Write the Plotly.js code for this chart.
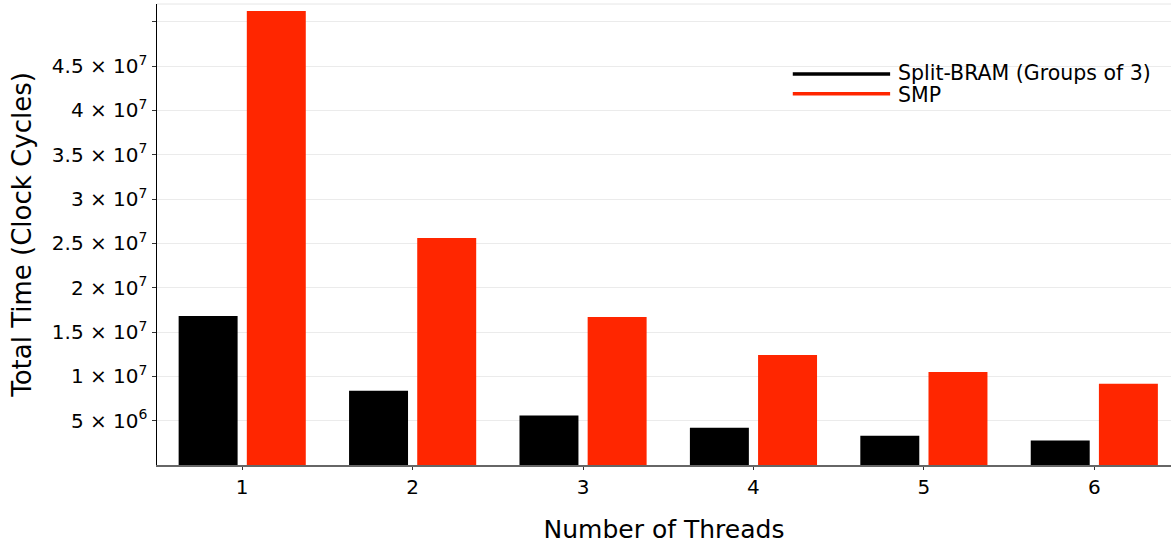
<!DOCTYPE html>
<html>
<head>
<meta charset="utf-8">
<script src="https://cdn.plot.ly/plotly-3.0.1.min.js"></script>
<style>html,body{margin:0;padding:0;background:#fff;}#chart{width:1172px;height:546px;}</style>
</head>
<body>
<div id="chart"></div>
<script>
// ---- data ----
var threads = [1, 2, 3, 4, 5, 6];
var seriesNames = ["Split-BRAM (Groups of 3)", "SMP"];
var splitBram = [16.8e6, 8.38e6, 5.57e6, 4.21e6, 3.31e6, 2.75e6];
var smp = [51.2e6, 25.6e6, 16.7e6, 12.4e6, 10.5e6, 9.17e6];
var yTickVals = [5e6, 10e6, 15e6, 20e6, 25e6, 30e6, 35e6, 40e6, 45e6, 50e6];
var yTickText = ["5 × 10<sup>6</sup>", "1 × 10<sup>7</sup>", "1.5 × 10<sup>7</sup>", "2 × 10<sup>7</sup>",
                 "2.5 × 10<sup>7</sup>", "3 × 10<sup>7</sup>", "3.5 × 10<sup>7</sup>", "4 × 10<sup>7</sup>",
                 "4.5 × 10<sup>7</sup>", ""];
var colors = ["#000000", "#ff2600"];

var FONT = "DejaVu Sans, sans-serif";

var traces = [
  {type: "bar", x: threads, y: splitBram, name: seriesNames[0], marker: {color: colors[0], line: {width: 0}}, showlegend: false},
  {type: "bar", x: threads, y: smp, name: seriesNames[1], marker: {color: colors[1], line: {width: 0}}, showlegend: false}
];

// manual line-style legend (Plots.jl look)
var legX0 = 0.627, legX1 = 0.723, legTx = 0.729;
var legLineY = [0.8484, 0.8055];
var legTextY = [0.8500, 0.8035];
var shapes = [
  {type: "line", xref: "paper", yref: "paper", x0: 0, x1: 1, y0: 1, y1: 1, line: {color: "#e6e6e6", width: 1}, layer: "below"}
];
var annotations = [];
for (var i = 0; i < 2; i++) {
  shapes.push({type: "line", xref: "paper", yref: "paper", x0: legX0, x1: legX1, y0: legLineY[i], y1: legLineY[i],
               line: {color: colors[i], width: 3.5}});
  annotations.push({xref: "paper", yref: "paper", x: legTx, y: legTextY[i], xanchor: "left", yanchor: "middle",
                    text: seriesNames[i], showarrow: false, font: {family: FONT, size: 20.5, color: "#000"}});
}

var layout = {
  width: 1172, height: 546,
  margin: {l: 157, r: 1, t: 4, b: 80.5},
  paper_bgcolor: "#fff", plot_bgcolor: "#fff",
  barmode: "group", bargap: 0.2, bargroupgap: 0.135,
  font: {family: FONT, size: 20, color: "#000"},
  xaxis: {
    range: [0.5, 6.45], tickvals: threads, ticktext: threads.map(String),
    showgrid: false, zeroline: false,
    showline: true, linecolor: "#666", linewidth: 1.5,
    ticks: "outside", ticklen: 3, tickcolor: "#333", tickwidth: 1,
    tickfont: {family: FONT, size: 20},
    title: {text: "Number of Threads", font: {family: FONT, size: 25}, standoff: 23}
  },
  yaxis: {
    range: [0, 52e6], tickvals: yTickVals, ticktext: yTickText,
    showgrid: true, gridcolor: "#ebebeb", gridwidth: 1, zeroline: false,
    showline: true, linecolor: "#000", linewidth: 1.5,
    ticks: "outside", ticklen: 4, tickcolor: "#333", tickwidth: 1,
    tickfont: {family: FONT, size: 20},
    title: {text: "Total Time (Clock Cycles)", font: {family: FONT, size: 26}, standoff: 12}
  },
  shapes: shapes,
  annotations: annotations,
  showlegend: false
};

Plotly.newPlot("chart", traces, layout, {displayModeBar: false, staticPlot: true});
</script>
</body>
</html>
